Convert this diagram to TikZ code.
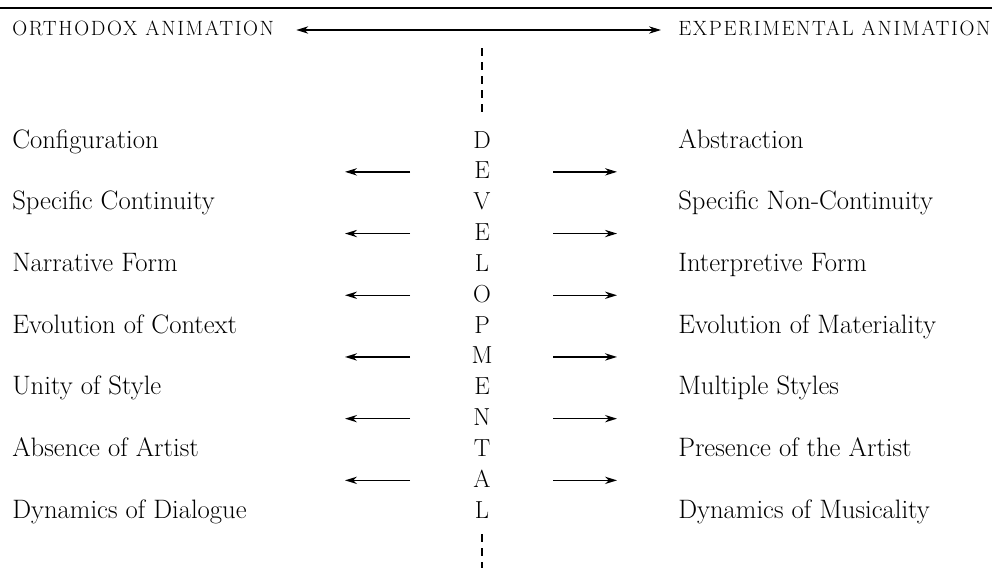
\documentclass[tikz,border=0pt]{standalone}
\usepackage{fontspec}
\newfontfamily\headfont{Latin Modern Roman}[LetterSpace=8]
\usepackage{tikz}
\usetikzlibrary{arrows.meta,calc}

\begin{document}
\begin{tikzpicture}[x=0.75pt,y=-0.75pt,
  body/.style={anchor=base west,inner sep=0pt,font=\fontsize{20}{24}\selectfont},
  head/.style={anchor=base west,inner sep=0pt,font=\headfont\fontsize{15.5}{18}\selectfont},
  letter/.style={anchor=base,inner sep=0pt,font=\fontsize{18.5}{22}\selectfont},
  tip/.style={-{Stealth[length=9pt,width=5.5pt]},line width=1pt},
  guide/.style={line width=1pt,dash pattern=on 6pt off 4.5pt}]
  \useasboundingbox (0,0) rectangle (992,575);
  % top rule
  \draw[line width=2.2pt] (0,8) -- (992,8);
  % header
  \node[head] (orth) at (12,35) {ORTHODOX ANIMATION};
  \node[head] (expt) at (678,35) {EXPERIMENTAL ANIMATION};
  \draw[{Stealth[length=9pt,width=5.5pt]}-{Stealth[length=9pt,width=5.5pt]},line width=0.9pt]
    ($(orth.base east)+(22,-5)$) -- ($(expt.base west)+(-17,-5)$);
  % vertical word
  \foreach \ch [count=\j from 0] in {D,E,V,E,L,O,P,M,E,N,T,A,L}
    \node[letter] (c\j) at (482,148+30.85*\j) {\ch};
  \coordinate (top) at (482,48);
  \coordinate (bot) at (482,568);
  \draw[guide] (top) -- ($(c0.north)+(0,-18)$);
  \draw[guide] ($(c12.south)+(0,16)$) -- (bot);
  % left and right columns
  \foreach \lft/\rgt [count=\k from 0] in {
      Configuration/Abstraction,
      Specific Continuity/Specific Non-Continuity,
      Narrative Form/Interpretive Form,
      Evolution of Context/Evolution of Materiality,
      Unity of Style/Multiple Styles,
      Absence of Artist/Presence of the Artist,
      Dynamics of Dialogue/Dynamics of Musicality} {
    \node[body] (l\k) at (12,148+61.7*\k) {\lft};
    \node[body] (r\k) at (678,148+61.7*\k) {\rgt};
  }
  % arrows between rows
  \foreach \k in {1,3,5,7,9,11} {
    \coordinate (al\k) at (410,{141+30.85*\k});
    \coordinate (bl\k) at (345,{141+30.85*\k});
    \coordinate (ar\k) at (553,{141+30.85*\k});
    \coordinate (br\k) at (617,{141+30.85*\k});
    \draw[tip] (al\k) -- (bl\k);
    \draw[tip] (ar\k) -- (br\k);
  }
\end{tikzpicture}
\end{document}
